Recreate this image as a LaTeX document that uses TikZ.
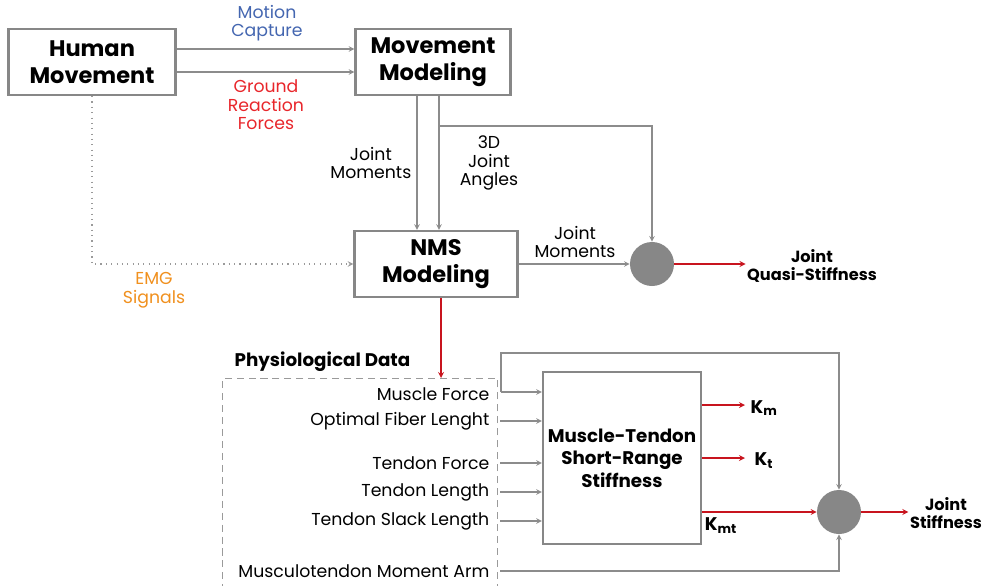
\documentclass[tikz,border=0pt]{standalone}
\usepackage{fontspec}
\setmainfont{Poppins}
\usetikzlibrary{shapes,arrows,positioning}

\definecolor{linegray}{HTML}{8C8C8C}
\definecolor{dotgray}{HTML}{9A9A9A}
\definecolor{boxgray}{HTML}{878787}
\definecolor{arrowred}{HTML}{C8141E}
\definecolor{textblue}{HTML}{4466B0}
\definecolor{textred}{HTML}{E8262B}
\definecolor{textorange}{HTML}{F0901E}

\begin{document}
\begin{tikzpicture}[>=stealth, x=0.025cm, y=-0.025cm, font=\fontsize{12.3}{13.2}\selectfont]

    % Define node styles
    \tikzstyle{block} = [draw=boxgray, line width=1.6pt, rectangle, minimum height=1.65cm, text centered, align=center, font=\bfseries\fontsize{16}{19.5}\selectfont]
    \tikzstyle{sum} = [circle, fill=boxgray, minimum size=1.1cm, inner sep=0pt]
    \tikzstyle{tag} = [align=center, inner sep=1pt]
    \tikzstyle{result} = [align=center, inner sep=1pt, font=\bfseries\fontsize{11.5}{13}\selectfont]
    \tikzstyle{input} = [anchor=east, inner sep=1pt]
    \tikzstyle{link} = [draw=linegray, line width=0.8pt, ->]
    \tikzstyle{redlink} = [draw=arrowred, line width=0.9pt, ->]

    \useasboundingbox (0,0) rectangle (985,585);

    % Draw nodes
    \node [block, minimum width=4.175cm] (human) at (92,62) {Human\\Movement};
    \node [block, minimum width=3.875cm] (movmod) at (433,62) {Movement\\Modeling};
    \node [block, minimum width=4.075cm] (nms) at (436,264) {NMS\\Modeling};
    \node [block, minimum width=3.95cm, minimum height=4.3cm, inner sep=2pt, font=\bfseries\fontsize{13}{16}\selectfont] (mtsrs) at (622,458) {Muscle-Tendon\\Short-Range\\Stiffness};
    \node [sum] (quasi) at (652,264) {};
    \node [sum] (joint) at (839,512) {};
    \node [result] (quasiout) at (812,266) {Joint\\Quasi-Stiffness};
    \node [result] (jointout) at (946,513) {Joint\\Stiffness};

    % Physiological data
    \node [draw=dotgray, dash pattern=on 5pt off 3.5pt, line width=0.6pt, minimum width=6.875cm, minimum height=5.6cm, anchor=north west] (phys) at (222,378) {};
    \node [font=\bfseries\fontsize{13}{15}\selectfont, anchor=south west, inner sep=1pt] (physlbl) at (233,373) {Physiological Data};
    \node [input] (mf) at (491,394) {Muscle Force};
    \node [input] (ofl) at (491,421) {Optimal Fiber Lenght};
    \node [input] (tf) at (491,463) {Tendon Force};
    \node [input] (tl) at (491,492) {Tendon Length};
    \node [input] (tsl) at (491,521) {Tendon Slack Length};
    \node [input] (mma) at (491,571) {Musculotendon Moment Arm};

    % Labels
    \node [tag, text=textblue] (mocap) at (267,23) {Motion\\Capture};
    \node [tag, text=textred] (grf) at (266,105) {Ground\\Reaction\\Forces};
    \node [tag, anchor=east] (jm1) at (413,163) {Joint\\Moments};
    \node [tag] (angles) at (489,163) {3D\\Joint\\Angles};
    \node [tag] (jm2) at (575,242) {Joint\\Moments};
    \node [tag, text=textorange] (emg) at (154,290) {EMG\\Signals};
    \node [font=\bfseries\fontsize{13}{15}\selectfont] (km) at (764,408) {K\textsubscript{m}};
    \node [font=\bfseries\fontsize{13}{15}\selectfont] (kt) at (764,461) {K\textsubscript{t}};
    \node [font=\bfseries\fontsize{13}{15}\selectfont] (kmt) at (721,526) {K\textsubscript{mt}};

    % Draw arrows
    \draw [link] (human.east |- 0,49) -- (movmod.west |- 0,49);
    \draw [link] (human.east |- 0,72) -- (movmod.west |- 0,72);
    \draw [link] (movmod.south -| 417,0) -- (nms.north -| 417,0);
    \draw [link] (movmod.south -| 439,0) -- (nms.north -| 439,0);
    \draw [link] (439,126) -| (quasi.north);
    \draw [link] (nms.east) -- (quasi.west);
    \draw [redlink] (quasi.east) -- (quasiout.west |- quasi.east);
    \draw [dotgray, line width=0.8pt, dash pattern=on 0.8pt off 3pt, ->] (human.south) |- (nms.west);
    \draw [redlink] ([xshift=0.125cm]nms.south) -- ([xshift=0.125cm]nms.south |- phys.north);

    \coordinate (split) at (501,392);
    \draw [link] (split) -- (split -| mtsrs.west);
    \draw [link] (split) -- (501,353) -| (joint.north);
    \draw [link] (ofl.east -| 500,0) -- (ofl.east -| mtsrs.west);
    \draw [link] (tf.east -| 500,0) -- (tf.east -| mtsrs.west);
    \draw [link] (tl.east -| 500,0) -- (tl.east -| mtsrs.west);
    \draw [link] (tsl.east -| 500,0) -- (tsl.east -| mtsrs.west);
    \draw [link] (mma.east -| 500,0) -| (joint.south);

    \draw [redlink] (mtsrs.east |- 0,405) -- (745,405);
    \draw [redlink] (mtsrs.east |- 0,458) -- (745,458);
    \draw [redlink] (mtsrs.east |- joint.west) -- (joint.west);
    \draw [redlink] (joint.east) -- (jointout.west |- joint.east);

\end{tikzpicture}
\end{document}
